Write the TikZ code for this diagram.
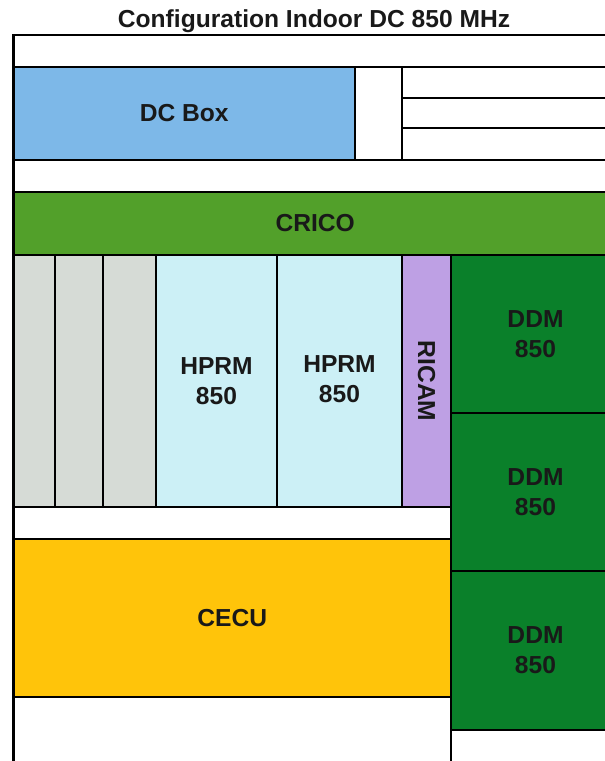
\documentclass[tikz,border=0pt]{standalone}
\usepackage{fontspec}
\setmainfont{Liberation Sans}
\definecolor{dcblue}{RGB}{125,184,232}
\definecolor{cricogreen}{RGB}{82,160,42}
\definecolor{slotgray}{RGB}{214,219,214}
\definecolor{hprmcyan}{RGB}{204,240,246}
\definecolor{ricamviolet}{RGB}{190,160,228}
\definecolor{ddmgreen}{RGB}{10,128,42}
\definecolor{cecuyellow}{RGB}{255,196,10}
\tikzset{
  unit/.style={draw=black, line width=1.3pt},
  lbl/.style={font=\fontsize{14}{17}\selectfont\bfseries, align=center, text=black!90}
}
\begin{document}
\begin{tikzpicture}[x=0.02cm, y=-0.02cm]
\useasboundingbox (0,0) rectangle (605,761);
\clip (0,0) rectangle (605,761);

\node[lbl] (title) at (314,21) {Configuration Indoor DC 850 MHz};

% top part
\draw[unit, fill=white] (13.5,35) rectangle (640,67);
\draw[unit, fill=dcblue] (13.5,67) rectangle (355,160) node[lbl, midway] (dcbox) {DC Box};
\draw[unit, fill=white] (355,67) rectangle (402,160);
\draw[unit, fill=white] (402,67) rectangle (640,98);
\draw[unit, fill=white] (402,98) rectangle (640,128);
\draw[unit, fill=white] (402,128) rectangle (640,160);
\draw[unit, fill=white] (13.5,160) rectangle (640,192);
\draw[unit, fill=cricogreen] (13.5,192) rectangle (617,255) node[lbl, midway] (crico) {CRICO};

% slots
\draw[unit, fill=slotgray] (13.5,255) rectangle (55,507);
\draw[unit, fill=slotgray] (55,255) rectangle (103,507);
\draw[unit, fill=slotgray] (103,255) rectangle (156,507);
\draw[unit, fill=hprmcyan] (156,255) rectangle (277,507) node[lbl, midway] (hprma) {HPRM\\850};
\draw[unit, fill=hprmcyan] (277,255) rectangle (402,507) node[lbl, midway, yshift=1pt] (hprmb) {HPRM\\850};
\draw[unit, fill=ricamviolet] (402,255) rectangle (451,507) node[lbl, midway, rotate=-90] (ricam) {RICAM};

% DDM column
\draw[unit, fill=ddmgreen] (451,255) rectangle (620,413) node[lbl, midway] (ddma) {DDM\\850};
\draw[unit, fill=ddmgreen] (451,413) rectangle (620,571) node[lbl, midway] (ddmb) {DDM\\850};
\draw[unit, fill=ddmgreen] (451,571) rectangle (620,730) node[lbl, midway] (ddmc) {DDM\\850};

% lower part
\draw[unit, fill=white] (13.5,507) rectangle (451,539);
\draw[unit, fill=cecuyellow] (13.5,539) rectangle (451,697) node[lbl, midway] (cecu) {CECU};
\draw[unit, fill=white] (13.5,697) rectangle (451,790);
\draw[unit, fill=white] (451,730) rectangle (640,790);
\end{tikzpicture}
\end{document}
